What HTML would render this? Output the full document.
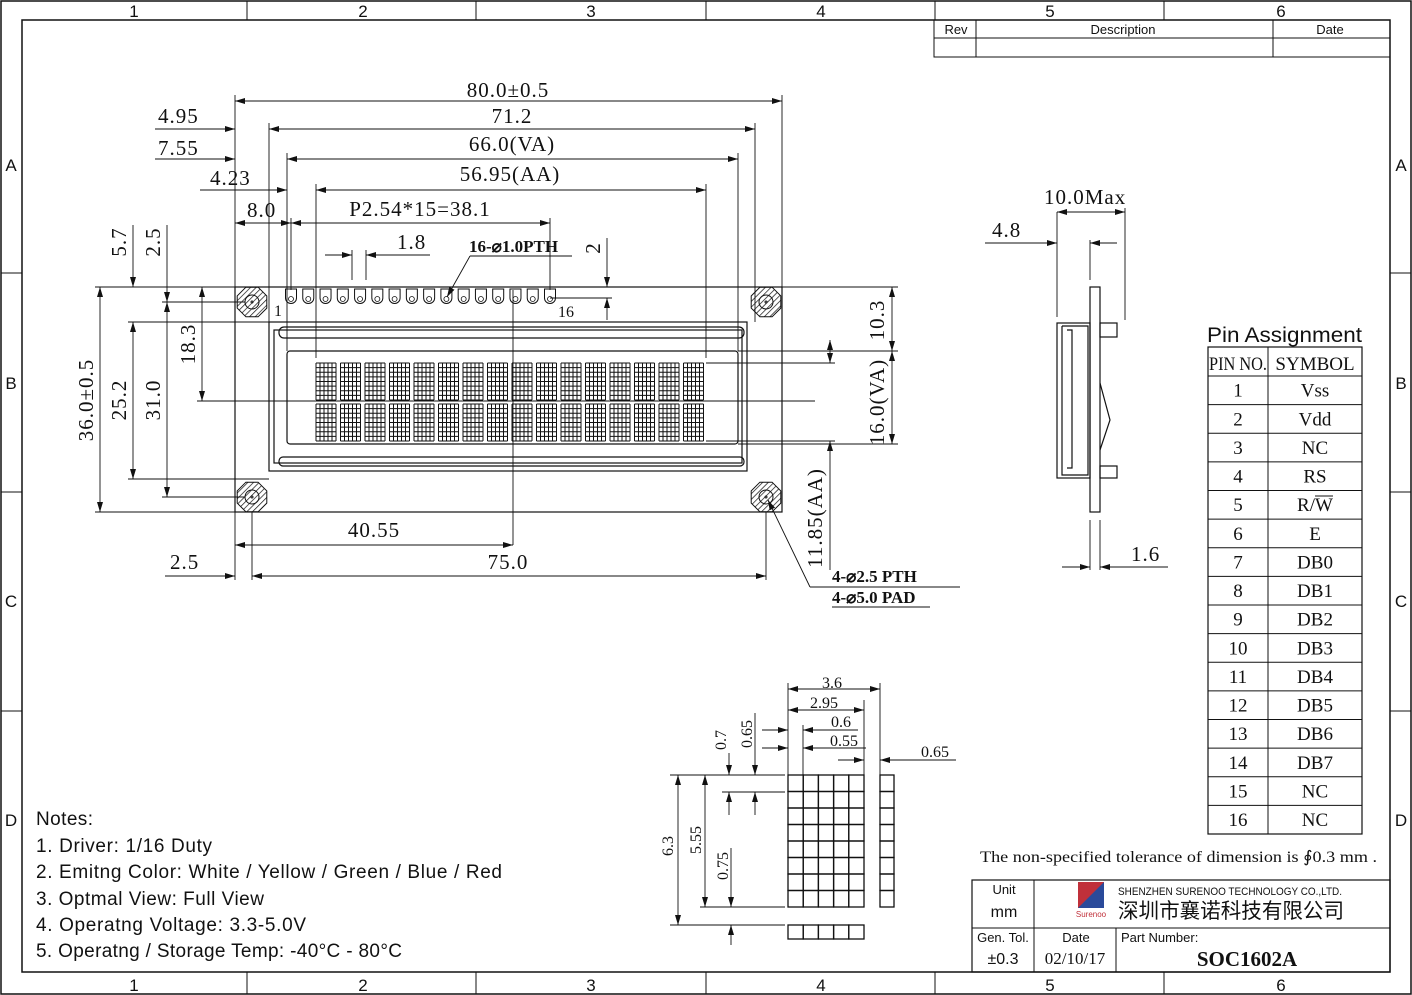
<!DOCTYPE html>
<html><head><meta charset="utf-8"><style>
html,body{margin:0;padding:0;background:#fff}
svg{display:block}
.s{font-family:"Liberation Serif",serif;fill:#111}
.n{font-family:"Liberation Sans","Noto Sans CJK SC",sans-serif;fill:#111}
.d{letter-spacing:1px}
line,rect,path,circle,polyline{stroke:#111;fill:none}
</style></head><body>
<svg id="g" width="1412" height="995" viewBox="0 0 1412 995" xmlns="http://www.w3.org/2000/svg">
<defs>
<marker id="a" viewBox="0 0 10 6" refX="10" refY="3" markerWidth="10" markerHeight="6" markerUnits="userSpaceOnUse" orient="auto-start-reverse"><path d="M0,0L10,3L0,6z" style="fill:#111;stroke:none"/></marker>
<pattern id="h" width="4" height="4" patternUnits="userSpaceOnUse" patternTransform="rotate(45)"><line x1="0" y1="0" x2="0" y2="4" stroke-width="1.4"/></pattern>
</defs>
<rect x="1" y="1" width="1410" height="993" stroke-width="1.5"/>
<rect x="22" y="20" width="1368" height="952" stroke-width="1.5"/>
<g stroke-width="1">
<line x1="247" y1="1" x2="247" y2="20"/><line x1="476" y1="1" x2="476" y2="20"/><line x1="706" y1="1" x2="706" y2="20"/><line x1="935" y1="1" x2="935" y2="20"/><line x1="1164" y1="1" x2="1164" y2="20"/>
<line x1="247" y1="972" x2="247" y2="994"/><line x1="476" y1="972" x2="476" y2="994"/><line x1="706" y1="972" x2="706" y2="994"/><line x1="935" y1="972" x2="935" y2="994"/><line x1="1164" y1="972" x2="1164" y2="994"/>
<line x1="1" y1="273" x2="22" y2="273"/><line x1="1" y1="492" x2="22" y2="492"/><line x1="1" y1="711" x2="22" y2="711"/>
<line x1="1390" y1="273" x2="1411" y2="273"/><line x1="1390" y1="492" x2="1411" y2="492"/><line x1="1390" y1="711" x2="1411" y2="711"/>
</g>
<g class="n" font-size="17" text-anchor="middle">
<text x="134" y="17">1</text><text x="363" y="17">2</text><text x="591" y="17">3</text><text x="821" y="17">4</text><text x="1050" y="17">5</text><text x="1281" y="17">6</text>
<text x="134" y="991">1</text><text x="363" y="991">2</text><text x="591" y="991">3</text><text x="821" y="991">4</text><text x="1050" y="991">5</text><text x="1281" y="991">6</text>
<text x="11" y="171">A</text><text x="11" y="389">B</text><text x="11" y="607">C</text><text x="11" y="826">D</text>
<text x="1401" y="171">A</text><text x="1401" y="389">B</text><text x="1401" y="607">C</text><text x="1401" y="826">D</text>
</g>
<rect x="934" y="20" width="456" height="37"/>
<line x1="934" y1="38" x2="1390" y2="38"/><line x1="976" y1="20" x2="976" y2="57"/><line x1="1273" y1="20" x2="1273" y2="57"/>
<g class="n" font-size="13" text-anchor="middle"><text x="956" y="34">Rev</text><text x="1123" y="34">Description</text><text x="1330" y="34">Date</text></g>

<g stroke-width="1.2">
<rect x="235" y="287" width="547" height="225"/>
<rect x="269" y="322" width="478" height="149"/>
<rect x="274" y="330" width="468" height="133"/>
<rect x="279" y="327" width="465" height="11" rx="5"/>
<rect x="279" y="457" width="465" height="9" rx="4"/>
<rect x="287" y="351" width="451" height="93" rx="3"/>
</g>
<g id="holes"></g>
<g id="pins"></g>
<g id="chars" stroke-width="1"></g>

<g stroke-width="0.9">
<line x1="235" y1="95" x2="235" y2="287"/><line x1="782" y1="95" x2="782" y2="287"/>
<line x1="269" y1="123" x2="269" y2="322"/><line x1="755" y1="123" x2="755" y2="322"/>
<line x1="287" y1="153" x2="287" y2="351"/><line x1="738" y1="153" x2="738" y2="351"/>
<line x1="316" y1="184" x2="316" y2="358"/><line x1="706" y1="184" x2="706" y2="358"/>
<line x1="291" y1="218" x2="291" y2="290"/><line x1="550" y1="218" x2="550" y2="290"/>
<line x1="352" y1="250" x2="352" y2="280"/><line x1="366" y1="250" x2="366" y2="280"/>
<line x1="513" y1="290" x2="513" y2="545"/>
<line x1="95" y1="287" x2="235" y2="287"/><line x1="95" y1="512" x2="235" y2="512"/>
<line x1="128" y1="322" x2="269" y2="322"/><line x1="128" y1="479" x2="269" y2="479"/>
<line x1="162" y1="302" x2="245" y2="302"/><line x1="162" y1="497" x2="245" y2="497"/>
<line x1="197" y1="401" x2="815" y2="401"/>
<line x1="550" y1="298" x2="612" y2="298"/>
<line x1="782" y1="287" x2="898" y2="287"/>
<line x1="738" y1="351" x2="898" y2="351"/><line x1="738" y1="444" x2="898" y2="444"/>
<line x1="706" y1="363" x2="835" y2="363"/><line x1="706" y1="441" x2="835" y2="441"/>
<line x1="252" y1="512" x2="252" y2="580"/><line x1="766" y1="512" x2="766" y2="580"/>
<line x1="235" y1="512" x2="235" y2="580"/>
</g>
<g stroke-width="0.9" marker-start="url(#a)" marker-end="url(#a)">
<line x1="235" y1="101" x2="782" y2="101"/>
<line x1="269" y1="129" x2="755" y2="129"/>
<line x1="287" y1="159" x2="738" y2="159"/>
<line x1="316" y1="190" x2="706" y2="190"/>
<line x1="291" y1="223" x2="550" y2="223"/>
<line x1="235" y1="223" x2="291" y2="223"/>
<line x1="100" y1="287" x2="100" y2="512"/>
<line x1="133" y1="322" x2="133" y2="479"/>
<line x1="167" y1="302" x2="167" y2="497"/>
<line x1="202" y1="287" x2="202" y2="401"/>
<line x1="892" y1="287" x2="892" y2="351"/>
<line x1="892" y1="351" x2="892" y2="444"/>
<line x1="830" y1="340" x2="830" y2="363"/>
<line x1="235" y1="545" x2="513" y2="545"/>
<line x1="252" y1="576" x2="766" y2="576"/>
</g>
<g stroke-width="0.9">
<line x1="155" y1="129" x2="235" y2="129" marker-end="url(#a)"/>
<line x1="155" y1="159" x2="235" y2="159" marker-end="url(#a)"/>
<line x1="200" y1="190" x2="287" y2="190" marker-end="url(#a)"/>
<line x1="325" y1="255" x2="352" y2="255" marker-end="url(#a)"/>
<line x1="430" y1="255" x2="366" y2="255" marker-end="url(#a)"/>
<line x1="607" y1="238" x2="607" y2="287" marker-end="url(#a)"/>
<line x1="607" y1="320" x2="607" y2="298" marker-end="url(#a)"/>
<line x1="133" y1="225" x2="133" y2="287" marker-end="url(#a)"/>
<line x1="167" y1="225" x2="167" y2="302" marker-end="url(#a)"/>
<line x1="830" y1="570" x2="830" y2="441" marker-end="url(#a)"/>
<line x1="165" y1="576" x2="235" y2="576" marker-end="url(#a)"/>
<line x1="470" y1="256" x2="572" y2="256"/>
<line x1="470" y1="256" x2="447" y2="297" marker-end="url(#a)"/>
<line x1="960" y1="587" x2="810" y2="587"/><line x1="810" y1="587" x2="768" y2="500" marker-end="url(#a)"/>
<line x1="832" y1="607" x2="930" y2="607"/>
</g>
<g class="s d" font-size="21">
<text x="508" y="97" text-anchor="middle">80.0±0.5</text>
<text x="512" y="123" text-anchor="middle">71.2</text>
<text x="512" y="151" text-anchor="middle">66.0(VA)</text>
<text x="510" y="181" text-anchor="middle">56.95(AA)</text>
<text x="420" y="216" text-anchor="middle">P2.54*15=38.1</text>
<text x="158" y="123">4.95</text><text x="158" y="155">7.55</text><text x="210" y="185">4.23</text><text x="247" y="217">8.0</text>
<text x="397" y="249">1.8</text>
<text x="374" y="537" text-anchor="middle">40.55</text><text x="508" y="569" text-anchor="middle">75.0</text><text x="170" y="569">2.5</text>
<text transform="translate(93,400) rotate(-90)" text-anchor="middle">36.0±0.5</text>
<text transform="translate(126,400) rotate(-90)" text-anchor="middle">25.2</text>
<text transform="translate(160,400) rotate(-90)" text-anchor="middle">31.0</text>
<text transform="translate(195,344) rotate(-90)" text-anchor="middle">18.3</text>
<text transform="translate(126,242) rotate(-90)" text-anchor="middle">5.7</text>
<text transform="translate(160,242) rotate(-90)" text-anchor="middle">2.5</text>
<text transform="translate(600,248) rotate(-90)" text-anchor="middle">2</text>
<text transform="translate(884,320) rotate(-90)" text-anchor="middle">10.3</text>
<text transform="translate(884,402) rotate(-90)" text-anchor="middle">16.0(VA)</text>
<text transform="translate(822,518) rotate(-90)" text-anchor="middle">11.85(AA)</text>
</g>
<g class="s" font-size="16"><text x="274" y="316">1</text><text x="558" y="317">16</text></g>
<g class="s" font-size="17" font-weight="bold">
<text x="469" y="252">16-⌀1.0PTH</text>
<text x="832" y="582">4-⌀2.5 PTH</text><text x="832" y="603">4-⌀5.0 PAD</text>
</g>

<g stroke-width="1.2">
<rect x="1090" y="287" width="10" height="225"/>
<rect x="1057" y="323" width="33" height="155"/>
<polyline points="1062,326 1088,326 1088,475 1062,475 1062,326"/>
<polyline points="1067,330 1072,330 1072,468 1067,468"/>
<rect x="1100" y="323" width="17" height="14"/>
<rect x="1100" y="466" width="17" height="12"/>
<polyline points="1100,383 1110,420 1100,450"/>
</g>
<g stroke-width="0.9">
<line x1="1057" y1="212" x2="1057" y2="317"/><line x1="1125" y1="208" x2="1125" y2="320"/><line x1="1090" y1="240" x2="1090" y2="280"/>
<line x1="1090" y1="520" x2="1090" y2="570"/><line x1="1100" y1="520" x2="1100" y2="570"/>
<line x1="1057" y1="212" x2="1125" y2="212" marker-start="url(#a)" marker-end="url(#a)"/>
<line x1="985" y1="243" x2="1057" y2="243" marker-end="url(#a)"/>
<line x1="1117" y1="243" x2="1090" y2="243" marker-end="url(#a)"/>
<line x1="1062" y1="567" x2="1090" y2="567" marker-end="url(#a)"/>
<line x1="1168" y1="567" x2="1100" y2="567" marker-end="url(#a)"/>
</g>
<g class="s d" font-size="21"><text x="1044" y="204">10.0Max</text><text x="992" y="237">4.8</text><text x="1131" y="561">1.6</text></g>

<text class="n" x="1207" y="342" font-size="21" textLength="155" lengthAdjust="spacingAndGlyphs">Pin Assignment</text>
<g id="tbl"></g>

<g id="cd" stroke-width="1.3"></g>
<g stroke-width="0.9">
<line x1="788" y1="683" x2="788" y2="775"/><line x1="880" y1="683" x2="880" y2="775"/><line x1="864" y1="700" x2="864" y2="775"/><line x1="803" y1="725" x2="803" y2="775"/>
<line x1="788" y1="689" x2="880" y2="689" marker-start="url(#a)" marker-end="url(#a)"/>
<line x1="788" y1="710" x2="864" y2="710" marker-start="url(#a)" marker-end="url(#a)"/>
<line x1="762" y1="730" x2="788" y2="730" marker-end="url(#a)"/><line x1="858" y1="730" x2="803" y2="730" marker-end="url(#a)"/>
<line x1="762" y1="748" x2="788" y2="748" marker-end="url(#a)"/><line x1="866" y1="748" x2="803" y2="748" marker-end="url(#a)"/>
<line x1="838" y1="760" x2="864" y2="760" marker-end="url(#a)"/><line x1="956" y1="760" x2="880" y2="760" marker-end="url(#a)"/>
<line x1="670" y1="775" x2="785" y2="775"/><line x1="722" y1="792" x2="785" y2="792"/>
<line x1="700" y1="907" x2="785" y2="907"/><line x1="670" y1="925" x2="785" y2="925"/>
<line x1="678" y1="775" x2="678" y2="925" marker-start="url(#a)" marker-end="url(#a)"/>
<line x1="705" y1="775" x2="705" y2="907" marker-start="url(#a)" marker-end="url(#a)"/>
<line x1="729" y1="753" x2="729" y2="775" marker-end="url(#a)"/><line x1="729" y1="815" x2="729" y2="792" marker-end="url(#a)"/>
<line x1="755" y1="713" x2="755" y2="775" marker-end="url(#a)"/><line x1="755" y1="815" x2="755" y2="792" marker-end="url(#a)"/>
<line x1="731" y1="848" x2="731" y2="907" marker-end="url(#a)"/><line x1="731" y1="945" x2="731" y2="925" marker-end="url(#a)"/>
</g>
<g class="s" font-size="16">
<text x="822" y="688">3.6</text><text x="810" y="708">2.95</text><text x="831" y="727">0.6</text><text x="830" y="746">0.55</text><text x="921" y="757">0.65</text>
<text transform="translate(726,740) rotate(-90)" text-anchor="middle">0.7</text>
<text transform="translate(752,734) rotate(-90)" text-anchor="middle">0.65</text>
<text transform="translate(673,846) rotate(-90)" text-anchor="middle">6.3</text>
<text transform="translate(701,840) rotate(-90)" text-anchor="middle">5.55</text>
<text transform="translate(728,866) rotate(-90)" text-anchor="middle">0.75</text>
</g>

<g class="n" font-size="19" lengthAdjust="spacingAndGlyphs">
<text x="36" y="825" textLength="57">Notes:</text>
<text x="36" y="852" textLength="176">1. Driver: 1/16 Duty</text>
<text x="36" y="878" textLength="466">2. Emitng Color: White / Yellow / Green / Blue / Red</text>
<text x="36" y="905" textLength="228">3. Optmal View: Full View</text>
<text x="36" y="931" textLength="270">4. Operatng Voltage:  3.3-5.0V</text>
<text x="36" y="957" textLength="366">5. Operatng / Storage Temp: -40°C - 80°C</text>
</g>
<text class="s" x="980" y="862" font-size="16" textLength="397" lengthAdjust="spacingAndGlyphs">The non-specified tolerance of dimension is ∮0.3 mm .</text>

<rect x="972" y="880" width="418" height="92" stroke-width="1.2"/>
<line x1="972" y1="928" x2="1390" y2="928"/><line x1="1034" y1="880" x2="1034" y2="972"/><line x1="1116" y1="928" x2="1116" y2="972"/>
<g class="n" text-anchor="middle">
<text x="1004" y="894" font-size="13">Unit</text><text x="1004" y="917" font-size="16">mm</text>
<text x="1003" y="942" font-size="13">Gen. Tol.</text><text x="1003" y="964" font-size="16">±0.3</text>
<text x="1076" y="942" font-size="13">Date</text>
</g>
<text class="s" x="1075" y="964" font-size="17" text-anchor="middle">02/10/17</text>
<text class="n" x="1121" y="942" font-size="13">Part Number:</text>
<text class="s" x="1247" y="966" font-size="21" font-weight="bold" text-anchor="middle">SOC1602A</text>
<rect x="1078" y="882" width="26" height="26" style="fill:#c0303a;stroke:none"/>
<path d="M1078,908L1104,882L1104,908z" style="fill:#2a4a9a;stroke:none"/>
<text x="1091" y="917" font-size="8" text-anchor="middle" style="fill:#c0303a;font-family:'Liberation Sans',sans-serif">Surenoo</text>
<text class="n" x="1118" y="895" font-size="11" textLength="224" lengthAdjust="spacingAndGlyphs">SHENZHEN SURENOO TECHNOLOGY CO.,LTD.</text>
<text class="n" x="1118" y="918" font-size="21" textLength="226" lengthAdjust="spacingAndGlyphs">深圳市襄诺科技有限公司</text>
</svg>
<script>
const NS="http://www.w3.org/2000/svg";
function el(p,t,a){const e=document.createElementNS(NS,t);for(const k in a)e.setAttribute(k,a[k]);document.getElementById(p).appendChild(e);return e;}
[[252,302],[766,302],[252,497],[766,497]].forEach(([x,y])=>{
 let pts=[];for(let i=0;i<8;i++){let a=Math.PI/8+i*Math.PI/4;pts.push((x+16*Math.cos(a)).toFixed(1)+","+(y+16*Math.sin(a)).toFixed(1));}
 el("holes","polygon",{points:pts.join(" "),fill:"url(#h)",stroke:"#111","stroke-width":"1"});
 el("holes","circle",{cx:x,cy:y,r:7,fill:"#fff",stroke:"#111"});
 el("holes","circle",{cx:x,cy:y,r:1,fill:"#111"});
});
for(let i=0;i<16;i++){let x=291+i*(259/15);
 el("pins","path",{d:`M${x-5.5},289 L${x-5.5},298 A5.5,5.5 0 0 0 ${x+5.5},298 L${x+5.5},289 Z`,fill:"url(#h)",stroke:"#111","stroke-width":"1"});
 el("pins","circle",{cx:x,cy:299,r:2.5,fill:"#fff",stroke:"#111","stroke-width":"0.8"});}
for(let r=0;r<2;r++)for(let c=0;c<16;c++){
 let x0=316+c*24.5,y0=r?404:363,w=20,h=37;
 for(let i=0;i<=5;i++)el("chars","line",{x1:x0+i*w/5,y1:y0,x2:x0+i*w/5,y2:y0+h});
 for(let j=0;j<=8;j++)el("chars","line",{x1:x0,y1:y0+j*h/8,x2:x0+w,y2:y0+j*h/8});
}
const sy=["Vss","Vdd","NC","RS","R/W","E","DB0","DB1","DB2","DB3","DB4","DB5","DB6","DB7","NC","NC"];
el("tbl","rect",{x:1208,y:347,width:154,height:487,"stroke-width":"1.2"});
el("tbl","line",{x1:1268,y1:347,x2:1268,y2:834});
let rh=(834-376)/16;
el("tbl","line",{x1:1208,y1:376,x2:1362,y2:376});
let t=el("tbl","text",{x:1238,y:370,"class":"s","font-size":"19","text-anchor":"middle",textLength:"58",lengthAdjust:"spacingAndGlyphs"});t.textContent="PIN NO.";
t=el("tbl","text",{x:1315,y:370,"class":"s","font-size":"19","text-anchor":"middle"});t.textContent="SYMBOL";
for(let i=0;i<16;i++){let y=376+i*rh;
 if(i)el("tbl","line",{x1:1208,y1:y,x2:1362,y2:y});
 t=el("tbl","text",{x:1238,y:y+rh-8,"class":"s","font-size":"19","text-anchor":"middle"});t.textContent=i+1;
 t=el("tbl","text",{x:1315,y:y+rh-8,"class":"s","font-size":"19","text-anchor":"middle"});t.textContent=sy[i];}
el("tbl","line",{x1:1315,y1:496,x2:1333,y2:496,"stroke-width":"1"});
const cw=15.2,ch=16.5;
for(let i=0;i<5;i++)for(let j=0;j<8;j++)el("cd","rect",{x:788+i*cw,y:775+j*ch,width:cw,height:ch});
for(let j=0;j<8;j++)el("cd","rect",{x:880,y:775+j*ch,width:14,height:ch});
for(let i=0;i<5;i++)el("cd","rect",{x:788+i*cw,y:925,width:cw,height:14});
</script>
</body></html>
